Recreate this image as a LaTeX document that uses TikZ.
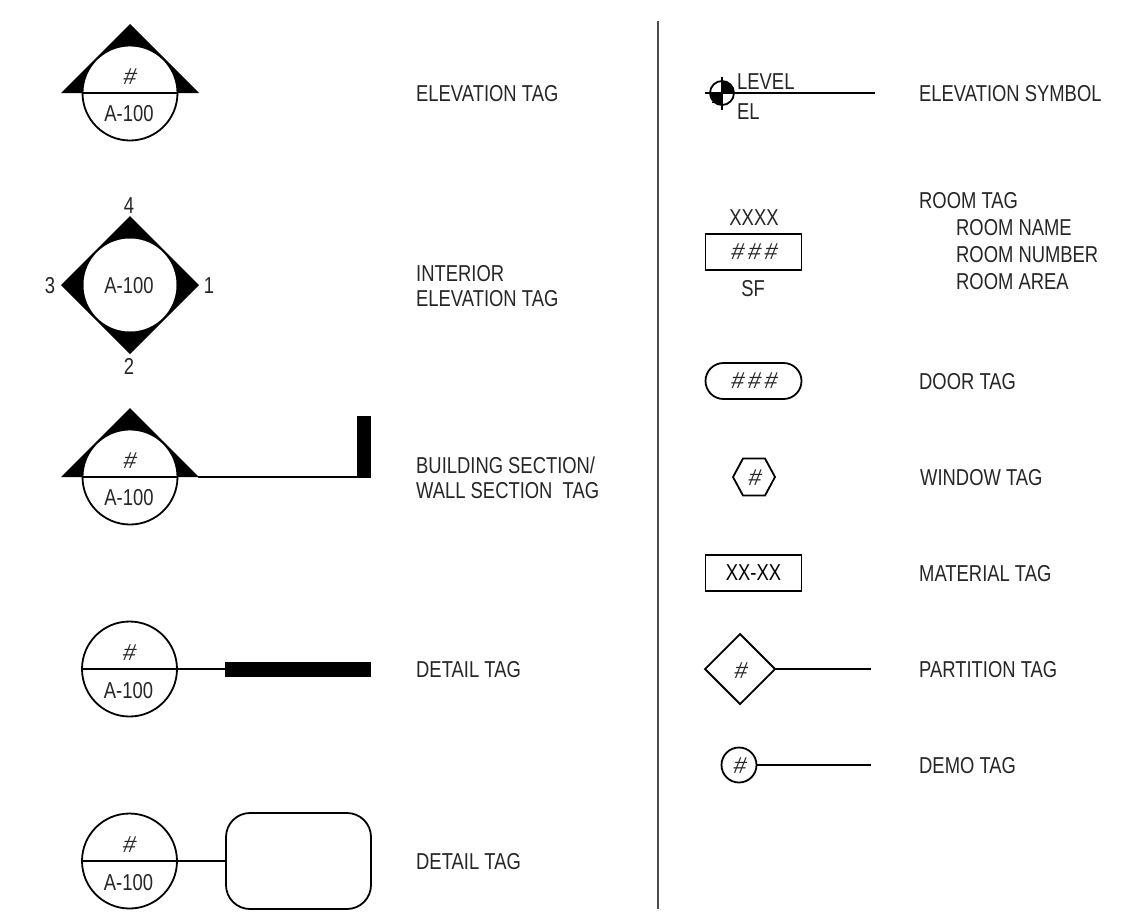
\documentclass[tikz,border=0pt]{standalone}
\usepackage{fontspec}
\setmainfont[FakeStretch=0.8]{Liberation Sans}
\newfontfamily\hashfont[FakeSlant=0.18]{Liberation Sans}
\tikzset{
 ln/.style={draw=black,line width=1.8pt},
 lab/.style={font=\fontsize{23}{25}\selectfont,inner sep=0pt,text=black!85,yshift=-1pt},
 tagl/.style={lab,anchor=west,align=left},
 hash/.style={lab,font=\fontsize{23}{25}\selectfont\hashfont},
 ctag/.style={lab},
 bigc/.style={circle,draw=black,fill=white,line width=1.8pt,minimum size=95pt,inner sep=0pt},
 tagbox/.style={draw=black,line width=1.8pt,minimum width=96pt,minimum height=36pt,inner sep=0pt}
}
\newcommand{\sectag}[3]{%
 \fill[black] (#2-69,#3) -- (#2,#3-69) -- (#2+69,#3) -- cycle;
 \node[bigc] (#1c) at (#2,#3) {};
 \draw[ln] (#1c.west) -- (#1c.east);
 \node[hash] (#1a) at (#2-1,#3-17) {\#};
 \node[ctag] (#1b) at (#2-1,#3+20) {A-100};
}
\newcommand{\dettag}[3]{%
 \node[bigc] (#1c) at (#2,#3) {};
 \draw[ln] (#1c.west) -- (#1c.east);
 \node[hash] (#1a) at (#2-1,#3-17) {\#};
 \node[ctag] (#1b) at (#2-1,#3+21) {A-100};
}
\begin{document}
\begin{tikzpicture}[x=1pt,y=-1pt]
\useasboundingbox[fill=white] (0,0) rectangle (1142,921);
% divider
\coordinate (dt) at (658,21); \coordinate (db) at (658,909);
\draw[draw=black!70,line width=1.4pt] (dt) -- (db);
% elevation tag
\sectag{e}{130}{93}
\node[tagl] (t1) at (416,93) {ELEVATION TAG};
% interior
\fill[black] (130,216) -- (199,285) -- (130,354) -- (61,285) -- cycle;
\node[circle,fill=white,minimum size=93pt,inner sep=0pt] (ic) at (130,285) {};
\node[ctag] (ict) at (129,285) {A-100};
\node[ctag] (i4) at (129,205) {4};
\node[ctag] (i2) at (129,365) {2};
\node[ctag] (i3) at (50,285) {3};
\node[ctag] (i1) at (209,285) {1};
\node[tagl] (t2) at (416,285) {INTERIOR\\ELEVATION TAG};
% building section
\sectag{s}{130}{477}
\coordinate (sl) at (198,477); \coordinate (sr) at (371,477);
\draw[ln] (sl) -- (sr);
\fill[black] (357,416) rectangle (371,477);
\node[tagl] (t3) at (416,477) {BUILDING SECTION/\\WALL SECTION~ TAG};
% detail 1
\dettag{d}{129.5}{669}
\node[fill=black,minimum width=146pt,minimum height=15pt,inner sep=0pt] (dr) at (298,669) {};
\draw[ln] (dc.east) -- (dr.west);
\node[tagl] (t4) at (416,669) {DETAIL TAG};
% detail 2
\dettag{f}{129.5}{861}
\node[draw=black,line width=1.8pt,rounded corners=24pt,minimum width=145pt,minimum height=96pt,inner sep=0pt] (fr) at (298.5,861) {};
\draw[ln] (fc.east) -- (fr.west);
\node[tagl] (t5) at (416,861) {DETAIL TAG};
% elevation symbol
\coordinate (el) at (705,93); \coordinate (er) at (875,93);
\coordinate (ev1) at (722,77); \coordinate (ev2) at (722,110);
\fill[black] (722,93) -- (710,93) arc (180:90:12) -- cycle;
\fill[black] (722,93) -- (734,93) arc (0:-90:12) -- cycle;
\foreach \yy in {96,99,102} \draw[black,line width=1pt] (722,\yy) -- (712,\yy);
\draw[ln] (722,93) circle (12);
\draw[ln] (el) -- (er);
\draw[ln] (ev1) -- (ev2);
\node[lab,anchor=west] (el1) at (737,81) {LEVEL};
\node[lab,anchor=west] (el2) at (737,111) {EL};
\node[tagl] (t6) at (919,93) {ELEVATION SYMBOL};
% room tag
\node[ctag] (r1) at (754,217) {XXXX};
\node[tagbox,hash,yshift=1pt] (r2) at (753.5,252) {\#\,\#\,\#};
\node[ctag] (r3) at (753,288) {SF};
\node[lab,anchor=west,align=left] (t7) at (919,240) {ROOM TAG\\[2pt]\hspace*{37pt}ROOM NAME\\[2pt]\hspace*{37pt}ROOM NUMBER\\[2pt]\hspace*{37pt}ROOM AREA};
% door
\node[tagbox,hash,yshift=1pt,rounded corners=18pt] (dd) at (753.5,381) {\#\,\#\,\#};
\node[tagl] (t8) at (919,381) {DOOR TAG};
% window
\path[draw=black,line width=1.8pt] (733,477) -- (743,458.5) -- (765,458.5) -- (775,477) -- (765,495.5) -- (743,495.5) -- cycle;
\node[hash] (wn) at (754,477) {\#};
\node[tagl] (t9) at (920,477) {WINDOW TAG};
% material
\node[tagbox,font=\fontsize{23}{25}\selectfont] (mm) at (753.5,573) {XX-XX};
\node[tagl] (t10) at (919,573) {MATERIAL TAG};
% partition
\path[draw=black,line width=1.8pt] (705,669) -- (740,634) -- (775,669) -- (740,704) -- cycle;
\coordinate (pa) at (775,669); \coordinate (pb) at (871,669);
\node[hash] (pn) at (740,670) {\#};
\draw[ln] (pa) -- (pb);
\node[tagl] (t11) at (919,669) {PARTITION TAG};
% demo
\node[circle,draw=black,line width=1.8pt,minimum size=35pt,inner sep=0pt] (dm) at (739,765) {};
\node[hash] (dmt) at (739,765) {\#};
\coordinate (dme) at (871,765);
\draw[ln] (dm.east) -- (dme);
\node[tagl] (t12) at (919,765) {DEMO TAG};
\end{tikzpicture}
\end{document}
